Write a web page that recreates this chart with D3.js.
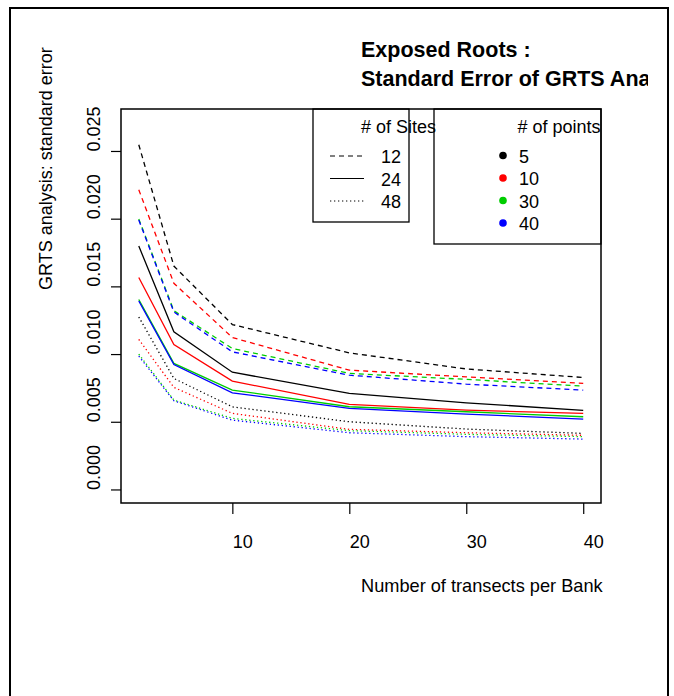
<!DOCTYPE html>
<html>
<head>
<meta charset="utf-8">
<script src="https://cdn.jsdelivr.net/npm/d3@7"></script>
<style>
  body { margin: 0; background: #fff; }
  svg { display: block; font-family: "Liberation Sans", Arial, sans-serif; }
</style>
</head>
<body>
<svg id="chart" width="674" height="696"></svg>
<script>
// transects per bank (x) and the legend keys
const transects = [2, 5, 10, 20, 30, 40];
const sites = [12, 24, 48];
const points = [5, 10, 30, 40];
const xTicks = [10, 20, 30, 40];
const yTicks = [0, 0.005, 0.010, 0.015, 0.020, 0.025];

// standard error, one row per # of points (5, 10, 30, 40)
const se12 = [
  [0.02546, 0.0165, 0.01218, 0.01009, 0.0089, 0.00827],
  [0.02214, 0.01523, 0.01122, 0.00881, 0.00832, 0.00783],
  [0.01998, 0.0132, 0.01041, 0.00857, 0.00813, 0.00763],
  [0.0199, 0.01311, 0.01016, 0.00844, 0.00778, 0.00734]
];
const se24 = [
  [0.01798, 0.01164, 0.00866, 0.00709, 0.0064, 0.00584],
  [0.01565, 0.01071, 0.008, 0.00628, 0.00586, 0.00562],
  [0.01403, 0.00931, 0.00734, 0.00611, 0.00574, 0.00537],
  [0.01392, 0.00923, 0.00714, 0.00599, 0.00557, 0.0052]
];
const se48 = [
  [0.01274, 0.0082, 0.0061, 0.005, 0.00446, 0.00414],
  [0.01108, 0.00754, 0.00562, 0.00444, 0.00419, 0.004],
  [0.00999, 0.0066, 0.00525, 0.00434, 0.00407, 0.0039],
  [0.00985, 0.00655, 0.00512, 0.00419, 0.0039, 0.00372]
];

const colors = ['#000000', '#ff0000', '#00cd00', '#0000ff'];
const siteDash = ['5,4', null, '1.3,2.7'];   // 12 dashed, 24 solid, 48 dotted

const svg = d3.select('#chart');
const plot = { left: 121, top: 109, right: 601, bottom: 503 };

const x = d3.scaleLinear().domain([0.48, 41.52]).range([plot.left, plot.right]);
const y = d3.scaleLinear().domain([-0.001, 0.0281]).range([plot.bottom, plot.top]);

// outer frame
svg.append('rect')
  .attr('x', 10).attr('y', 8).attr('width', 658).attr('height', 720)
  .attr('fill', 'none').attr('stroke', '#000').attr('stroke-width', 2);

// lines
const line = d3.line().x((d, i) => x(transects[i])).y(d => y(d));
[se12, se24, se48].forEach((rows, si) => {
  rows.forEach((vals, pi) => {
    svg.append('path')
      .datum(vals)
      .attr('d', line)
      .attr('fill', 'none')
      .attr('stroke', colors[pi])
      .attr('stroke-width', 1.3)
      .attr('stroke-dasharray', siteDash[si]);
  });
});

// axes
const yAxis = svg.append('g')
  .attr('transform', `translate(${plot.left},0)`)
  .call(d3.axisLeft(y).tickValues(yTicks).tickSize(10).tickFormat(d3.format('.3f')));
yAxis.select('.domain').remove();
yAxis.selectAll('line').attr('stroke', '#000').attr('stroke-width', 1.2);
yAxis.selectAll('text')
  .attr('x', null).attr('dy', null)
  .attr('transform', 'translate(-21,0) rotate(-90)')
  .attr('text-anchor', 'start')
  .attr('fill', '#000')
  .style('font-size', '18px');

const xAxis = svg.append('g')
  .attr('transform', `translate(0,${plot.bottom})`)
  .call(d3.axisBottom(x).tickValues(xTicks).tickSize(11));
xAxis.select('.domain').remove();
xAxis.selectAll('line').attr('stroke', '#000').attr('stroke-width', 1.2);
xAxis.selectAll('text')
  .attr('y', 45).attr('dy', null)
  .attr('text-anchor', 'start')
  .attr('fill', '#000')
  .style('font-size', '18px');

// plot box
svg.append('rect')
  .attr('x', plot.left).attr('y', plot.top)
  .attr('width', plot.right - plot.left).attr('height', plot.bottom - plot.top)
  .attr('fill', 'none').attr('stroke', '#000').attr('stroke-width', 1.5);

const midX = (plot.left + plot.right) / 2;
const midY = (plot.top + plot.bottom) / 2;

svg.append('text')
  .attr('x', midX).attr('y', 592)
  .style('font-size', '18.2px')
  .text('Number of transects per Bank');

svg.append('text')
  .attr('transform', `translate(52,${midY - 16}) rotate(-90)`)
  .style('font-size', '18px')
  .text('GRTS analysis: standard error');

// title, clipped at the figure edge as in the original
svg.append('clipPath').attr('id', 'titleClip')
  .append('rect').attr('x', 0).attr('y', 0).attr('width', 648).attr('height', 100);
const title = svg.append('g').attr('clip-path', 'url(#titleClip)');
title.append('text')
  .attr('x', midX).attr('y', 57)
  .style('font-size', '21.5px').style('font-weight', 'bold')
  .text('Exposed Roots :');
title.append('text')
  .attr('x', midX).attr('y', 86)
  .style('font-size', '21.5px').style('font-weight', 'bold')
  .text('Standard Error of GRTS Analysis');

// legend: # of Sites
const leg1 = { x: 313, y: 109, w: 96, h: 113 };
svg.append('rect')
  .attr('x', leg1.x).attr('y', leg1.y).attr('width', leg1.w).attr('height', leg1.h)
  .attr('fill', 'none').attr('stroke', '#000').attr('stroke-width', 1.3);
svg.append('text')
  .attr('x', leg1.x + leg1.w / 2).attr('y', 133)
  .style('font-size', '18px')
  .text('# of Sites');
sites.forEach((s, i) => {
  const yy = 156 + i * 22.5;
  svg.append('line')
    .attr('x1', 330).attr('x2', 364).attr('y1', yy).attr('y2', yy)
    .attr('stroke', '#000').attr('stroke-width', 1)
    .attr('stroke-dasharray', siteDash[i]);
  svg.append('text')
    .attr('x', 381).attr('y', yy + 7)
    .style('font-size', '18px')
    .text(s);
});

// legend: # of points
const leg2 = { x: 434, y: 109, w: 167, h: 135 };
svg.append('rect')
  .attr('x', leg2.x).attr('y', leg2.y).attr('width', leg2.w).attr('height', leg2.h)
  .attr('fill', 'none').attr('stroke', '#000').attr('stroke-width', 1.3);
svg.append('text')
  .attr('x', leg2.x + leg2.w / 2).attr('y', 133)
  .style('font-size', '18px')
  .text('# of points');
points.forEach((p, i) => {
  const yy = 155.5 + i * 22.5;
  svg.append('circle')
    .attr('cx', 503).attr('cy', yy).attr('r', 3.8)
    .attr('fill', colors[i]);
  svg.append('text')
    .attr('x', 519).attr('y', yy + 7)
    .style('font-size', '18px')
    .text(p);
});
</script>
</body>
</html>
